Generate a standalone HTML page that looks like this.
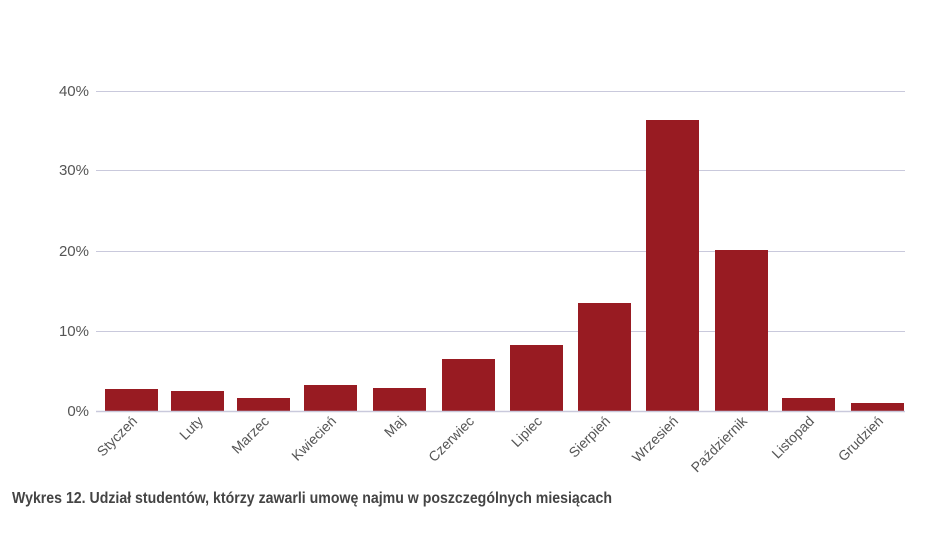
<!DOCTYPE html>
<html><head><meta charset="utf-8"><style>
body{margin:0;background:#fff;}
svg{display:block;font-family:"Liberation Sans","DejaVu Sans",sans-serif;}
</style></head><body>
<svg width="948" height="547" viewBox="0 0 948 547">
<g stroke="#c9c9dc" stroke-width="1">
<line x1="96" x2="905" y1="91.5" y2="91.5"/>
<line x1="96" x2="905" y1="170.5" y2="170.5"/>
<line x1="96" x2="905" y1="251.5" y2="251.5"/>
<line x1="96" x2="905" y1="331.5" y2="331.5"/>
</g>
<g fill="#555" font-size="15" text-anchor="end">
<text x="89" y="96">40%</text>
<text x="89" y="175">30%</text>
<text x="89" y="256">20%</text>
<text x="89" y="336">10%</text>
<text x="89" y="416">0%</text>
</g>
<g fill="#981b22">
<rect x="105" y="389" width="53" height="22"/>
<rect x="171" y="391" width="53" height="20"/>
<rect x="237" y="398" width="53" height="13"/>
<rect x="304" y="385" width="53" height="26"/>
<rect x="373" y="388" width="53" height="23"/>
<rect x="442" y="359" width="53" height="52"/>
<rect x="510" y="345" width="53" height="66"/>
<rect x="578" y="303" width="53" height="108"/>
<rect x="646" y="120" width="53" height="291"/>
<rect x="715" y="250" width="53" height="161"/>
<rect x="782" y="398" width="53" height="13"/>
<rect x="851" y="403" width="53" height="8"/>
</g>
<line x1="96" x2="905" y1="411.5" y2="411.5" stroke="#c9c9dc" stroke-width="1.5"/>
<g fill="#555" font-size="14" text-anchor="end">
<text transform="translate(138,422) rotate(-45)">Styczeń</text>
<text transform="translate(204,422) rotate(-45)">Luty</text>
<text transform="translate(270,422) rotate(-45)">Marzec</text>
<text transform="translate(337,422) rotate(-45)">Kwiecień</text>
<text transform="translate(406,422) rotate(-45)">Maj</text>
<text transform="translate(475,422) rotate(-45)">Czerwiec</text>
<text transform="translate(543,422) rotate(-45)">Lipiec</text>
<text transform="translate(611,422) rotate(-45)">Sierpień</text>
<text transform="translate(679,422) rotate(-45)">Wrzesień</text>
<text transform="translate(748,422) rotate(-45)">Październik</text>
<text transform="translate(815,422) rotate(-45)">Listopad</text>
<text transform="translate(884,422) rotate(-45)">Grudzień</text>
</g>
<text x="12" y="503" font-size="15.5" font-weight="bold" fill="#444" textLength="600" lengthAdjust="spacingAndGlyphs">Wykres 12. Udział studentów, którzy zawarli umowę najmu w poszczególnych miesiącach</text>
</svg>
</body></html>
